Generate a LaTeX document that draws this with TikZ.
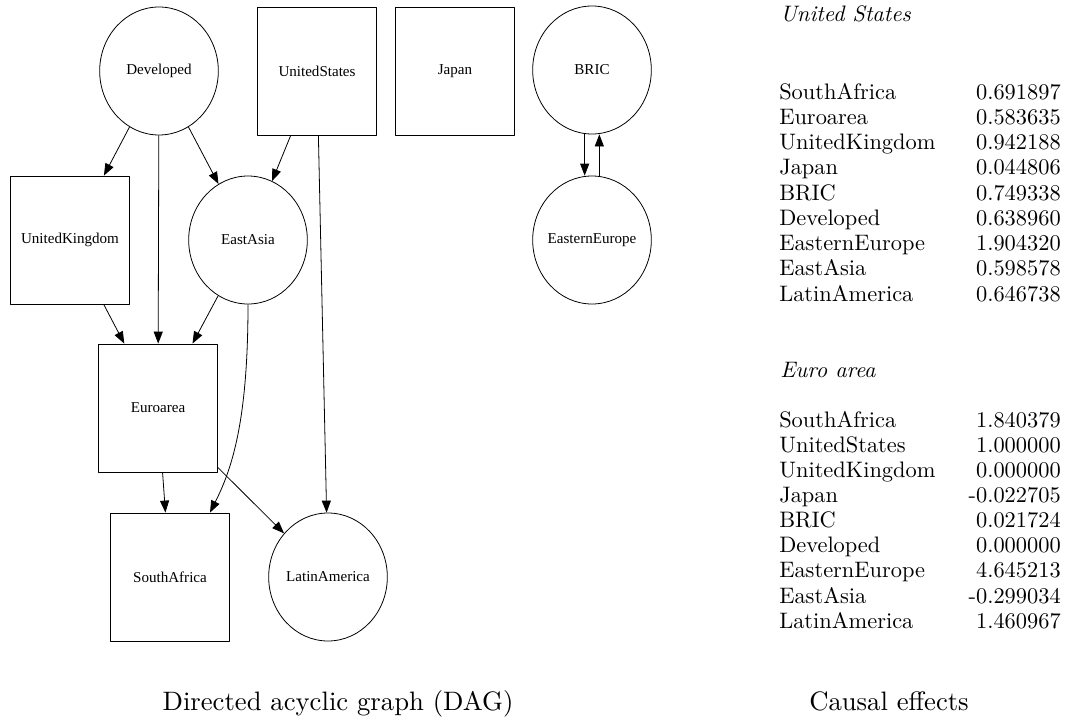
\documentclass[tikz,border=0pt]{standalone}
\usepackage{fontspec}
\usepackage{graphicx}
\newfontfamily\dagfont{Liberation Serif}
\usetikzlibrary{shapes.geometric,arrows.meta}
\newcommand{\olabel}[1]{\makebox[0pt]{#1}}
\newcommand{\tabtext}[1]{\scalebox{1.68}{#1}}
\newcommand{\captext}[1]{\scalebox{2.0}{#1}}
\tikzset{
  box/.style={draw, rectangle, line width=0.6pt, minimum width=89pt, minimum height=96pt, inner sep=0pt, font=\dagfont\fontsize{11.3}{13}\selectfont},
  oval/.style={draw, ellipse, line width=0.6pt, minimum width=89pt, minimum height=96pt, inner sep=0pt, font=\dagfont\fontsize{11.3}{13}\selectfont},
  edge/.style={->, line width=0.6pt},
  cell/.style={inner sep=0pt, font=\fontsize{10}{12}\selectfont}
}
\begin{document}
\begin{tikzpicture}[x=0.75pt, y=-0.75pt, line join=round, >={Triangle[length=9pt,width=6.8pt]}]
\useasboundingbox (0,0) rectangle (1067,717);
% the graph
\node[oval] (dev) at (159,71) {\olabel{Developed}};
\node[box] (us) at (317,71) {UnitedStates};
\node[box] (jp) at (455,71) {Japan};
\node[oval] (bric) at (592,70) {\olabel{BRIC}};
\node[box] (uk) at (70,240) {UnitedKingdom};
\node[oval] (ea) at (248,240) {\olabel{EastAsia}};
\node[oval] (ee) at (592,240) {\olabel{EasternEurope}};
\node[box] (euro) at (158,408) {Euroarea};
\node[box] (sa) at (170,577) {SouthAfrica};
\node[oval] (la) at (328,577) {\olabel{LatinAmerica}};
\foreach \a/\b in {dev/uk,dev/euro,dev/ea,us/ea,us/la,uk/euro,ea/euro,euro/sa,euro/la}
  \draw[edge] (\a) -- (\b);
\draw[edge] (ea.south) .. controls +(0,117) and +(22,-44) .. ([xshift=30pt]sa.north);
\draw[edge] ([xshift=-5.5pt]bric.south) -- ([xshift=-5.5pt]ee.north);
\draw[edge] ([xshift=5.5pt]ee.north) -- ([xshift=5.5pt]bric.south);
% the tables
\node[cell, anchor=base west] (ustitle) at (780,22) {\tabtext{\itshape United States}};
\foreach \n/\v [count=\i] in {SouthAfrica/0.691897, Euroarea/0.583635, UnitedKingdom/0.942188, Japan/0.044806, BRIC/0.749338, Developed/0.638960, EasternEurope/1.904320, EastAsia/0.598578, LatinAmerica/0.646738}{
  \node[cell, anchor=base west] (usN\i) at (779,{99+25.25*(\i-1)}) {\tabtext{\n}};
  \node[cell, anchor=base east] (usV\i) at (1061,{99+25.25*(\i-1)}) {\tabtext{\v}};
}
\node[cell, anchor=base west] (eutitle) at (780,377) {\tabtext{\itshape Euro area}};
\foreach \n/\v [count=\i] in {SouthAfrica/1.840379, UnitedStates/1.000000, UnitedKingdom/0.000000, Japan/-0.022705, BRIC/0.021724, Developed/0.000000, EasternEurope/4.645213, EastAsia/-0.299034, LatinAmerica/1.460967}{
  \node[cell, anchor=base west] (euN\i) at (779,{427+25.15*(\i-1)}) {\tabtext{\n}};
  \node[cell, anchor=base east] (euV\i) at (1061,{427+25.15*(\i-1)}) {\tabtext{\v}};
}
% captions
\node[cell, anchor=base] (dagcap) at (338,710) {\captext{Directed acyclic graph (DAG)}};
\node[cell, anchor=base] (effcap) at (889,710) {\captext{Causal effects}};
\end{tikzpicture}
\end{document}
